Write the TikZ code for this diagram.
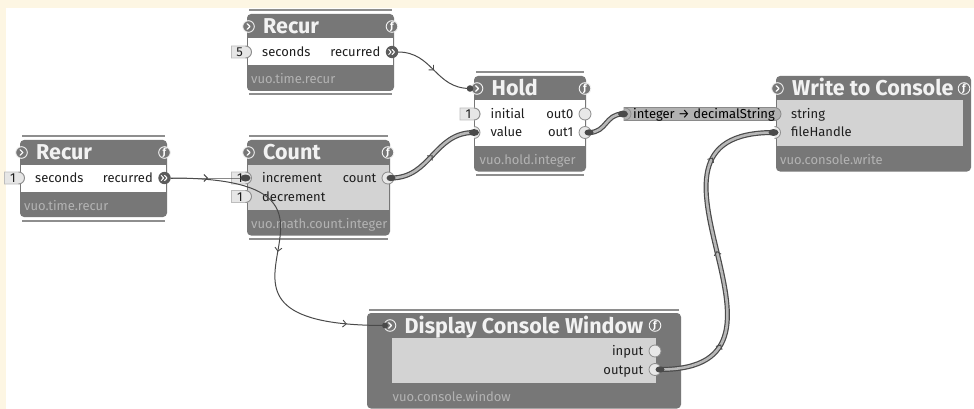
\documentclass[tikz,border=0pt]{standalone}
\usepackage{fontspec}
\setmainfont{Fira Sans}
\usetikzlibrary{arrows.meta,decorations.markings}

\definecolor{cream}{HTML}{FDF6E3}
\definecolor{frame}{HTML}{777777}
\definecolor{stateln}{HTML}{8E8E8E}
\definecolor{bodygray}{HTML}{D3D3D3}
\definecolor{portfill}{HTML}{E8E8E8}
\definecolor{portedge}{HTML}{8C8C8C}
\definecolor{constfill}{HTML}{E6E6E6}
\definecolor{constedge}{HTML}{BDBDBD}
\definecolor{cabledark}{HTML}{4A4A4A}
\definecolor{cablelight}{HTML}{B8B8B8}
\definecolor{foottext}{HTML}{B3B3B3}
\definecolor{titletext}{HTML}{F2F2F2}
\definecolor{labeltext}{HTML}{1E1E1E}
\definecolor{convfill}{HTML}{B2B2B2}
\definecolor{convedge}{HTML}{8A8A8A}
\definecolor{trigfill}{HTML}{5C5C5C}

% geometry of one Vuo node
\newif\ifvstate
\pgfkeys{/vuo/.cd,
  fl/.store in=\vfl, fr/.store in=\vfr, bl/.store in=\vbl, br/.store in=\vbr,
  xl/.store in=\vxl, xr/.store in=\vxr, row/.store in=\vrow, n/.store in=\vn,
  body/.store in=\vbody, title/.store in=\vtitle, foot/.store in=\vfoot,
  stateful/.is if=vstate}

\tikzset{
  stateline/.style={draw=stateln, line width=2pt},
  titlefont/.style={text=titletext, font=\fontsize{21.5}{21.5}\selectfont\bfseries, inner sep=0pt},
  footfont/.style={text=foottext, font=\fontsize{13}{13}\selectfont, inner sep=0pt},
  portlabel/.style={text=labeltext, font=\fontsize{13}{13}\selectfont, inner sep=0pt},
  iconring/.style={fill=frame, draw=titletext, line width=0.9pt},
  outring/.style={fill=portfill, draw=portedge, line width=0.8pt},
  constbox/.style={fill=constfill, draw=constedge, line width=0.8pt},
  blob/.style={fill=cabledark},
  flowtip/.tip={Straight Barb[length=3.5pt,width=7pt,line width=0.9pt]},
  eventcable/.style={draw=cabledark, line width=1pt},
  datacable/.style={draw=cablelight, line width=2.6pt, preaction={draw=cabledark, line width=5pt}},
  tips/.style={postaction={decorate, decoration={markings,
      mark=at position #1 with {\arrow[cabledark]{flowtip}}}}},
}

\newcommand\vuonode[2]{%
  \begingroup
  \pgfkeys{/vuo/.cd,stateful=false,#2}%
  \pgfmathsetmacro\vT{\vrow-38}%
  \pgfmathsetmacro\vBt{\vrow-13.5}%
  \pgfmathsetmacro\vBb{\vrow+(\vn-1)*18.5+13.5}%
  \pgfmathsetmacro\vF{\vBb+25.5}%
  \pgfmathsetmacro\vI{\vrow-25.5}%
  \expandafter\xdef\csname vxl@#1\endcsname{\vxl}%
  \expandafter\xdef\csname vxr@#1\endcsname{\vxr}%
  \expandafter\xdef\csname vrow@#1\endcsname{\vrow}%
  \ifvstate
    \draw[stateline] (\vfl+2,\vT-3.5) -- (\vfr-2,\vT-3.5);
    \draw[stateline] (\vfl+2,\vF+3.5) -- (\vfr-2,\vF+3.5);
  \fi
  \fill[frame, rounded corners=4pt] (\vfl,\vT) rectangle (\vfr,\vF);
  \fill[fill=\vbody] (\vbl,\vBt) rectangle (\vbr,\vBb);
  \node[titlefont, anchor=base west] (#1-title) at (\vxl+14.5,\vI+7.5) {\vtitle};
  \node[footfont, anchor=base west] (#1-class) at (\vxl+2.5,\vBb+18.5) {\vfoot};
  % refresh port
  \filldraw[iconring] (\vxl,\vI) circle (5.8);
  \draw[white, line width=1.2pt, line cap=round, line join=round]
    (\vxl-1.4,\vI-2.8) -- (\vxl+1.4,\vI) -- (\vxl-1.4,\vI+2.8);
  \coordinate (#1-refresh) at (\vxl,\vI);
  % event-throttling icon
  \filldraw[iconring] (\vxr,\vI) circle (5.8);
  \node[text=white, font=\fontsize{10}{10}\selectfont\bfseries, inner sep=0pt] (#1-throttle) at (\vxr,\vI) {ƒ};
  \endgroup}

% input port: node, port, row index, label, constant
\newcommand\vinport[5]{%
  \pgfmathsetmacro\vpy{\csname vrow@#1\endcsname+#3*18.5}%
  \edef\vpx{\csname vxl@#1\endcsname}%
  \if\relax\detokenize{#5}\relax
    \filldraw[outring] (\vpx-3,\vpy-6) arc(-90:90:6);
  \else
    \filldraw[constbox] (\vpx-3,\vpy+6) -- (\vpx-17,\vpy+6) -- (\vpx-17,\vpy-6)
      -- (\vpx-3,\vpy-6) arc(-90:90:6);
    \draw[portedge, line width=0.8pt] (\vpx-3,\vpy-6) arc(-90:90:6);
    \node[portlabel, anchor=base east] (#1-#2-const) at (\vpx-5.5,\vpy+4.5) {#5};
  \fi
  \node[portlabel, anchor=base west] (#1-#2-label) at (\vpx+13.5,\vpy+4.5) {#4};
  \coordinate (#1-#2) at (\vpx,\vpy);}

% output port: node, port, row index, label, kind (0 data, 1 trigger)
\newcommand\voutport[5]{%
  \pgfmathsetmacro\vpy{\csname vrow@#1\endcsname+#3*18.5}%
  \edef\vpx{\csname vxr@#1\endcsname}%
  \node[portlabel, anchor=base east] (#1-#2-label) at (\vpx-11.5,\vpy+4.5) {#4};
  \ifnum#5=1
    \fill[trigfill] (\vpx,\vpy) circle (6.2);
    \draw[white, line width=1pt, line cap=round, line join=round]
      (\vpx-3.3,\vpy-2.6) -- (\vpx-0.9,\vpy) -- (\vpx-3.3,\vpy+2.6)
      (\vpx+0.1,\vpy-2.6) -- (\vpx+2.5,\vpy) -- (\vpx+0.1,\vpy+2.6);
  \else
    \filldraw[outring] (\vpx,\vpy) circle (6);
  \fi
  \coordinate (#1-#2) at (\vpx,\vpy);}

\begin{document}
\begin{tikzpicture}[x=1pt,y=-1pt]
\useasboundingbox (0,0) rectangle (974,409);
\fill[cream] (0,0) rectangle (974,409);
\fill[white] (6,8) rectangle (974,409);

% nodes
\vuonode{recurL}{fl=20,fr=167,bl=21,br=166,xl=21.5,xr=164.5,row=178,n=1,
  body=white,title=Recur,foot=vuo.time.recur,stateful=true}
\vinport{recurL}{seconds}{0}{seconds}{1}
\voutport{recurL}{recurred}{0}{recurred}{1}

\vuonode{recurT}{fl=247,fr=394,bl=248,br=393,xl=248.5,xr=392,row=52,n=1,
  body=white,title=Recur,foot=vuo.time.recur,stateful=true}
\vinport{recurT}{seconds}{0}{seconds}{5}
\voutport{recurT}{recurred}{0}{recurred}{1}

\vuonode{count}{fl=247,fr=390,bl=248,br=389,xl=248.5,xr=388,row=178,n=2,
  body=bodygray,title=Count,foot=vuo.math.count.integer,stateful=true}
\vinport{count}{increment}{0}{increment}{1}
\vinport{count}{decrement}{1}{decrement}{1}
\voutport{count}{count}{0}{count}{0}

\vuonode{hold}{fl=474,fr=586,bl=475,br=585,xl=477,xr=585,row=114,n=2,
  body=white,title=Hold,foot=vuo.hold.integer,stateful=true}
\vinport{hold}{initial}{0}{initial}{1}
\vinport{hold}{value}{1}{value}{}
\voutport{hold}{out0}{0}{out0}{0}
\voutport{hold}{out1}{1}{out1}{0}

\vuonode{write}{fl=776,fr=971,bl=777,br=963,xl=777.5,xr=964,row=114,n=2,
  body=bodygray,title=Write to Console,foot=vuo.console.write}
\vinport{write}{string}{0}{string}{}
\vinport{write}{fileHandle}{1}{fileHandle}{}

\vuonode{display}{fl=367,fr=681,bl=392,br=656,xl=390,xr=655,row=351,n=2,
  body=bodygray,title=Display Console Window,foot=vuo.console.window,stateful=true}
\voutport{display}{input}{0}{input}{0}
\voutport{display}{output}{1}{output}{0}

% type converter attached to the string input
\filldraw[fill=convfill, draw=convedge, line width=0.8pt]
  (624,107.5) -- (774.5,107.5) arc(-90:90:6.5) -- (624,120.5) -- cycle;
\draw[portedge, line width=0.8pt] (625,108) arc(-90:90:6);
\node[portlabel, text=black, anchor=base west] (conv) at (633,118.5) {integer → decimalString};
\coordinate (conv-in) at (623,114);

% event cables
\draw[eventcable, tips=0.5] ([xshift=6pt]recurL-recurred) .. controls +(25,0) and +(-25,0) .. ([xshift=-3pt]count-increment);
\draw[eventcable, tips=0.5, tips=0.88] ([xshift=6pt]recurL-recurred) .. controls +(240,0) and +(-240,0) .. ([xshift=-5pt]display-refresh);
\draw[eventcable, tips=0.5] ([xshift=6pt]recurT-recurred) .. controls +(35,0) and +(-35,0) .. ([xshift=-7pt]hold-refresh);

% data cables
\draw[datacable, tips=0.5] ([xshift=3pt]count-count) .. controls +(40,0) and +(-40,0) .. ([xshift=-3pt]hold-value);
\draw[datacable] ([xshift=4pt]hold-out1) .. controls +(18,0) and +(-18,0) .. (conv-in);
\draw[datacable, tips=0.21, tips=0.5, tips=0.79] ([xshift=5pt]display-output) .. controls +(170,0) and +(-170,0) .. ([xshift=-4pt]write-fileHandle);

% cable ends
\fill[blob] ([xshift=-3pt]count-increment) ellipse (5 and 3.5);
\fill[blob] ([xshift=-3pt]hold-value) ellipse (5 and 3.5);
\fill[blob] ([xshift=-4pt]write-fileHandle) ellipse (5 and 3.5);
\fill[blob] (conv-in) ellipse (5 and 3.5);
\fill[blob] ([xshift=3pt]count-count) ellipse (4.5 and 3.2);
\fill[blob] ([xshift=4pt]hold-out1) ellipse (4.5 and 3.2);
\fill[blob] ([xshift=5pt]display-output) ellipse (4.5 and 3.2);
\fill[blob] ([xshift=-7pt]hold-refresh) circle (3.3);
\fill[blob] ([xshift=-5pt]display-refresh) circle (3);
\end{tikzpicture}
\end{document}
